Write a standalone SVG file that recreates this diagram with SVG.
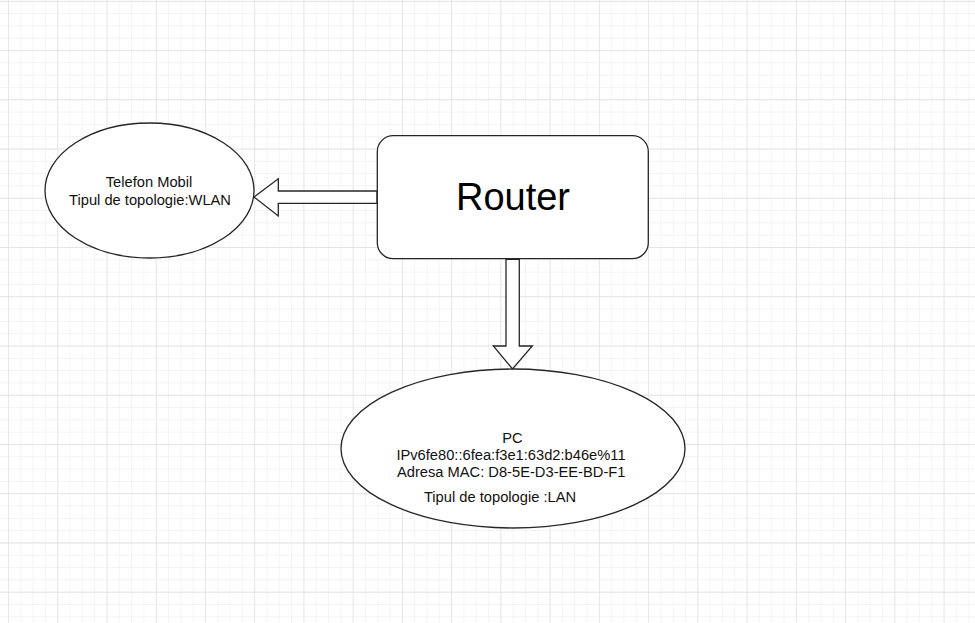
<svg xmlns="http://www.w3.org/2000/svg" width="975" height="623" viewBox="0 0 975 623">
  <style>
    .shape { fill: #ffffff; stroke: #262626; stroke-width: 1.3; }
    .arrow { fill: #ffffff; stroke: #262626; stroke-width: 1.3; stroke-linejoin: miter; }
    .lbl { font-family: "Liberation Sans", Arial, sans-serif; font-size: 14.7px; fill: #111111; text-anchor: middle; }
    .big { font-family: "Liberation Sans", Arial, sans-serif; font-size: 38px; fill: #000000; text-anchor: middle; }
  </style>
  <defs>
    <pattern id="minor" x="8" y="0.8" width="12.31" height="12.31" patternUnits="userSpaceOnUse">
      <path d="M 0 0 V 12.31 M 0 0 H 12.31" fill="none" stroke="#f0f0f0" stroke-width="1.2"/>
    </pattern>
    <pattern id="major" x="8" y="0.8" width="49.24" height="49.24" patternUnits="userSpaceOnUse">
      <path d="M 0 0 V 49.24 M 0 0 H 49.24" fill="none" stroke="#e0e0e0" stroke-width="1.3"/>
    </pattern>
  </defs>
  <rect width="975" height="623" fill="#ffffff"/>
  <rect width="975" height="623" fill="url(#minor)"/>
  <rect width="975" height="623" fill="url(#major)"/>

  <g id="connectors">
    <polygon class="arrow" points="377,191 278.3,191 278.3,178.7 254,197 278.3,216 278.3,203.3 377,203.3"/>
    <polygon class="arrow" points="506,259.3 506,346 493.3,346 512.5,369 532.3,346 519.3,346 519.3,259.3"/>
  </g>

  <g id="router">
    <rect class="shape" x="377.3" y="135.7" width="271" height="123" rx="16" ry="16"/>
    <text class="big" x="513" y="210">Router</text>
  </g>

  <g id="telefon">
    <ellipse class="shape" cx="149.5" cy="190.5" rx="104.5" ry="67.5"/>
    <text class="lbl" x="149" y="186.7">Telefon Mobil</text>
    <text class="lbl" x="150" y="205">Tipul de topologie:WLAN</text>
  </g>

  <g id="pc">
    <ellipse class="shape" cx="513" cy="448.5" rx="172" ry="79.5"/>
    <text class="lbl" x="512.5" y="442.7">PC</text>
    <text class="lbl" x="511" y="460">IPv6fe80::6fea:f3e1:63d2:b46e%11</text>
    <text class="lbl" x="511.2" y="477.3">Adresa MAC: D8-5E-D3-EE-BD-F1</text>
    <text class="lbl" x="500" y="501.7">Tipul de topologie :LAN</text>
  </g>
</svg>
